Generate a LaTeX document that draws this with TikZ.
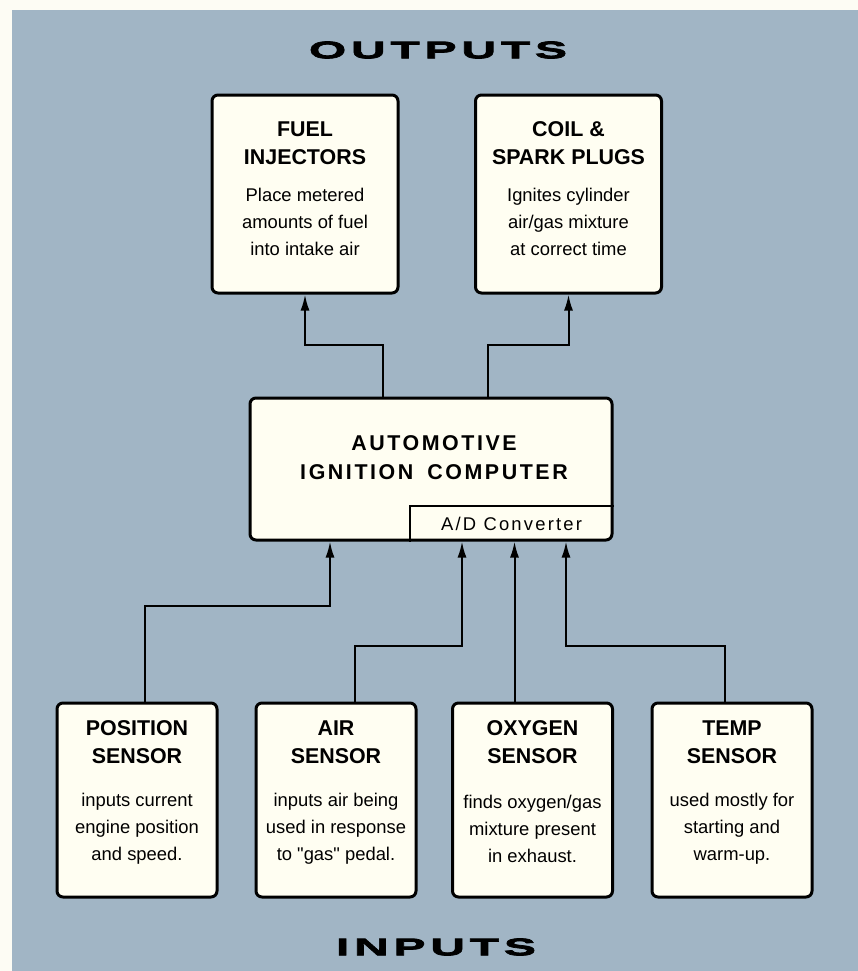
\documentclass[tikz,border=0pt]{standalone}
\usepackage{fontspec}
\usetikzlibrary{arrows.meta,positioning}
\setmainfont{Liberation Sans}
\newfontfamily\widefont[FakeStretch=2.0,FakeBold=3,LetterSpace=20]{Liberation Sans Bold}
\newfontfamily\spacedfont[LetterSpace=12]{Liberation Sans}
\definecolor{bgblue}{HTML}{A1B5C5}
\definecolor{boxfill}{HTML}{FFFEF2}
\definecolor{paper}{HTML}{FDFCF4}

\begin{document}
\begin{tikzpicture}[x=0.5pt,y=-0.5pt,>={Latex[length=8pt,width=4.5pt]},
  box/.style={draw=black,line width=1.5pt,rounded corners=3pt,fill=boxfill,inner sep=0pt},
  outbox/.style={box,minimum width=93pt,minimum height=99pt},
  sensorbox/.style={box,minimum width=80pt,minimum height=97pt},
  head/.style={align=center,font=\fontsize{10.7}{14}\selectfont\bfseries},
  body/.style={align=center,font=\fontsize{9.2}{13.5}\selectfont},
  title/.style={font=\widefont\fontsize{12}{14}\selectfont},
  conn/.style={line width=1pt}]
\useasboundingbox (0,0) rectangle (858,971);
\fill[paper] (0,0) rectangle (858,971);
\fill[bgblue] (12,10) rectangle (858,971);

\node[title] (outputs) at (438,50) {OUTPUTS};
\node[title] (inputs) at (436,947) {INPUTS};

\node[outbox] (fuel) at (305,194) {};
\node[head] (fuel-h) at ([yshift=-25pt]fuel.north) {FUEL\\INJECTORS};
\node[body] (fuel-b) at ([yshift=-64pt]fuel.north) {Place metered\\amounts of fuel\\into intake air};
\node[outbox] (coil) at (568.5,194) {};
\node[head] (coil-h) at ([yshift=-25pt]coil.north) {COIL \&\\SPARK PLUGS};
\node[body] (coil-b) at ([yshift=-64pt]coil.north) {Ignites cylinder\\air/gas mixture\\at correct time};

\node[box,minimum width=181pt,minimum height=71pt] (comp) at (431,469) {};
\node[align=center,font=\spacedfont\bfseries\fontsize{10.7}{14.5}\selectfont] (comp-t) at (434,457.5) {AUTOMOTIVE\\IGNITION\hspace{7pt}COMPUTER};
\node[font=\spacedfont\fontsize{9.2}{11}\selectfont,minimum width=101.5pt,minimum height=17.5pt,inner sep=0pt,anchor=south east] (adc) at (comp.south east) {A/D Converter};
\draw[line width=1.2pt] (adc.south west) |- (adc.north east);

\node[sensorbox] (pos) at (137,800) {};
\node[head] (pos-h) at ([yshift=-20.5pt]pos.north) {POSITION\\SENSOR};
\node[body] (pos-b) at ([yshift=-63.5pt]pos.north) {inputs current\\engine position\\and speed.};
\node[sensorbox] (air) at (336,800) {};
\node[head] (air-h) at ([yshift=-20.5pt]air.north) {AIR\\SENSOR};
\node[body] (air-b) at ([yshift=-63.5pt]air.north) {inputs air being\\used in response\\to \textquotedbl gas\textquotedbl{} pedal.};
\node[sensorbox] (oxy) at (532.5,800) {};
\node[head] (oxy-h) at ([yshift=-20.5pt]oxy.north) {OXYGEN\\SENSOR};
\node[body] (oxy-b) at ([yshift=-63.5pt]oxy.north) {finds oxygen/gas\\mixture present\\in exhaust.};
\node[sensorbox] (temp) at (732,800) {};
\node[head] (temp-h) at ([yshift=-20.5pt]temp.north) {TEMP\\SENSOR};
\node[body] (temp-b) at ([yshift=-63.5pt]temp.north) {used mostly for\\starting and\\warm-up.};

\coordinate (ofuel) at (383,345);
\coordinate (ocoil) at (488,345);
\draw[conn,->] (ofuel |- comp.north) -- (ofuel) -| (fuel.south);
\draw[conn,->] (ocoil |- comp.north) -- (ocoil) -| (coil.south);

\coordinate (ipos) at (330,606);
\coordinate (iair) at (462,646);
\coordinate (itemp) at (566,646);
\draw[conn,->] ([xshift=4pt]pos.north) |- (ipos) -- (ipos |- comp.south);
\draw[conn,->] ([xshift=9.5pt]air.north) |- (iair) -- (iair |- comp.south);
\draw[conn,->] ([xshift=-9pt]oxy.north) coordinate (ioxy) -- (ioxy |- comp.south);
\draw[conn,->] ([xshift=-3.5pt]temp.north) |- (itemp) -- (itemp |- comp.south);
\end{tikzpicture}
\end{document}
